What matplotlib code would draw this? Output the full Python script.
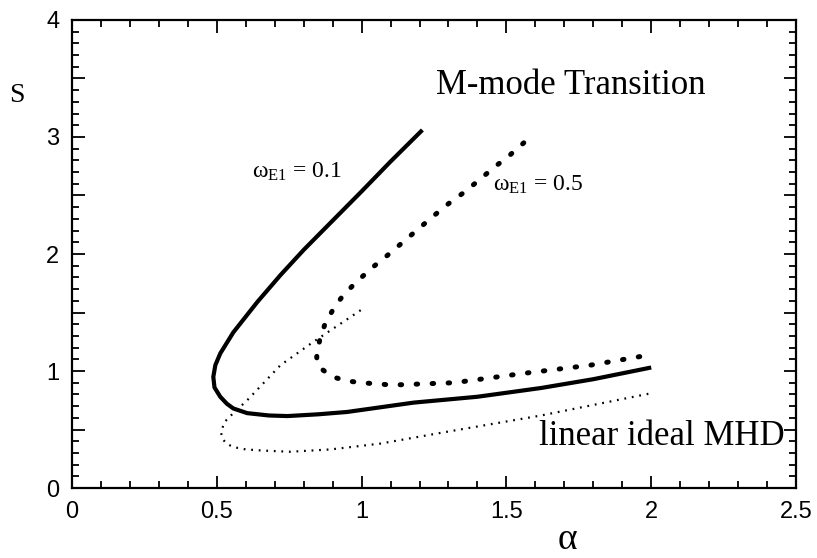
import matplotlib
matplotlib.use("Agg")
import matplotlib.pyplot as plt
from matplotlib.ticker import MultipleLocator, FuncFormatter

# -------------------------------------------------
# values (alpha, s)

# omega_E1 = 0.1, solid curve
alpha_w01 = [1.21, 1.10, 1.0, 0.90, 0.80, 0.72, 0.64, 0.557, 0.512, 0.495,
             0.488, 0.492, 0.512, 0.535, 0.557, 0.605, 0.68, 0.744, 0.85,
             0.95, 1.18, 1.40, 1.62, 1.80, 2.0]
s_w01 = [3.06, 2.79, 2.535, 2.285, 2.035, 1.82, 1.59, 1.33, 1.15, 1.05,
         0.95, 0.86, 0.78, 0.72, 0.68, 0.64, 0.62, 0.615, 0.63,
         0.65, 0.73, 0.78, 0.855, 0.93, 1.03]

# omega_E1 = 0.5, heavy dotted curve
alpha_w05 = [1.56, 1.505, 1.457, 1.405, 1.35, 1.30, 1.246, 1.09, 1.04, 0.986,
             0.937, 0.90, 0.872, 0.855, 0.845, 0.848, 0.86, 0.90, 0.95, 1.00,
             1.107, 1.21, 1.32, 1.56, 1.79, 2.0]
s_w05 = [2.95, 2.83, 2.74, 2.63, 2.52, 2.43, 2.32, 1.99, 1.89, 1.77,
         1.65, 1.52, 1.39, 1.26, 1.12, 1.06, 1.02, 0.95, 0.915, 0.90,
         0.88, 0.89, 0.90, 0.98, 1.05, 1.14]

# linear ideal MHD, thin dotted curve
alpha_mhd = [0.997, 0.834, 0.72, 0.605, 0.557, 0.525, 0.515, 0.52, 0.533,
             0.557, 0.60, 0.66, 0.754, 0.893, 1.066, 1.27, 1.62, 2.0]
s_mhd = [1.52, 1.25, 1.05, 0.75, 0.64, 0.56, 0.47, 0.42, 0.38,
         0.35, 0.33, 0.32, 0.31, 0.33, 0.38, 0.47, 0.62, 0.81]

x_ticks = [0, 0.5, 1, 1.5, 2, 2.5]
x_tick_labels = ["0", "0.5", "1", "1.5", "2", "2.5"]

plt.rcParams["mathtext.fontset"] = "custom"
plt.rcParams["mathtext.rm"] = "Liberation Serif"
plt.rcParams["mathtext.it"] = "Liberation Serif:italic"
serif = "Liberation Serif"
sans = "Liberation Sans"

# -------------------------------------------------
fig = plt.figure(figsize=(8.17, 5.58), dpi=100)
ax = fig.add_axes([0.0881, 0.1254, 0.9743 - 0.0881, 0.9642 - 0.1254])

ax.plot(alpha_w01, s_w01, color="black", linewidth=3.0,
        solid_capstyle="butt", solid_joinstyle="round")
ax.plot(alpha_w05, s_w05, color="black", linewidth=3.6,
        linestyle=(0, (0.3, 2.9)), dash_capstyle="round")
ax.plot(alpha_mhd, s_mhd, color="black", linewidth=1.6,
        linestyle=(0, (0.8, 2.6)))

ax.set_xlim(0, 2.5)
ax.set_ylim(0, 4)

ax.set_xticks(x_ticks)
ax.set_xticklabels(x_tick_labels)
ax.xaxis.set_minor_locator(MultipleLocator(0.1))
ax.yaxis.set_major_locator(MultipleLocator(0.5))
ax.yaxis.set_major_formatter(FuncFormatter(
    lambda v, p: "%d" % v if abs(v - round(v)) < 1e-6 else ""))
ax.yaxis.set_minor_locator(MultipleLocator(0.1))

ax.tick_params(which="both", direction="in", top=True, right=True,
               width=1.3, labelsize=17, pad=9)
ax.tick_params(which="major", length=9)
ax.tick_params(which="minor", length=5)
for lab in ax.get_xticklabels() + ax.get_yticklabels():
    lab.set_family(sans)
for sp in ax.spines.values():
    sp.set_linewidth(1.6)

# labels
fig.text(17 / 817, 1 - 95 / 558, "S", family=serif, fontsize=20,
         ha="center", va="center")
fig.text(567 / 817, 1 - 540 / 558, "α", family=serif, fontsize=27,
         ha="center", va="center")

ax.text(1.256, 3.44, "M-mode Transition", family=serif, fontsize=25,
        ha="left", va="center")
ax.text(1.612, 0.44, "linear ideal MHD", family=serif, fontsize=25,
        ha="left", va="center")
ax.text(0.623, 2.70, r"$\mathrm{ω}_{\mathrm{E1}}$ = 0.1", family=serif,
        fontsize=17, ha="left", va="center")
ax.text(1.453, 2.59, r"$\mathrm{ω}_{\mathrm{E1}}$ = 0.5", family=serif,
        fontsize=17, ha="left", va="center")

fig.savefig("out.png", dpi=100)
plt.close(fig)
